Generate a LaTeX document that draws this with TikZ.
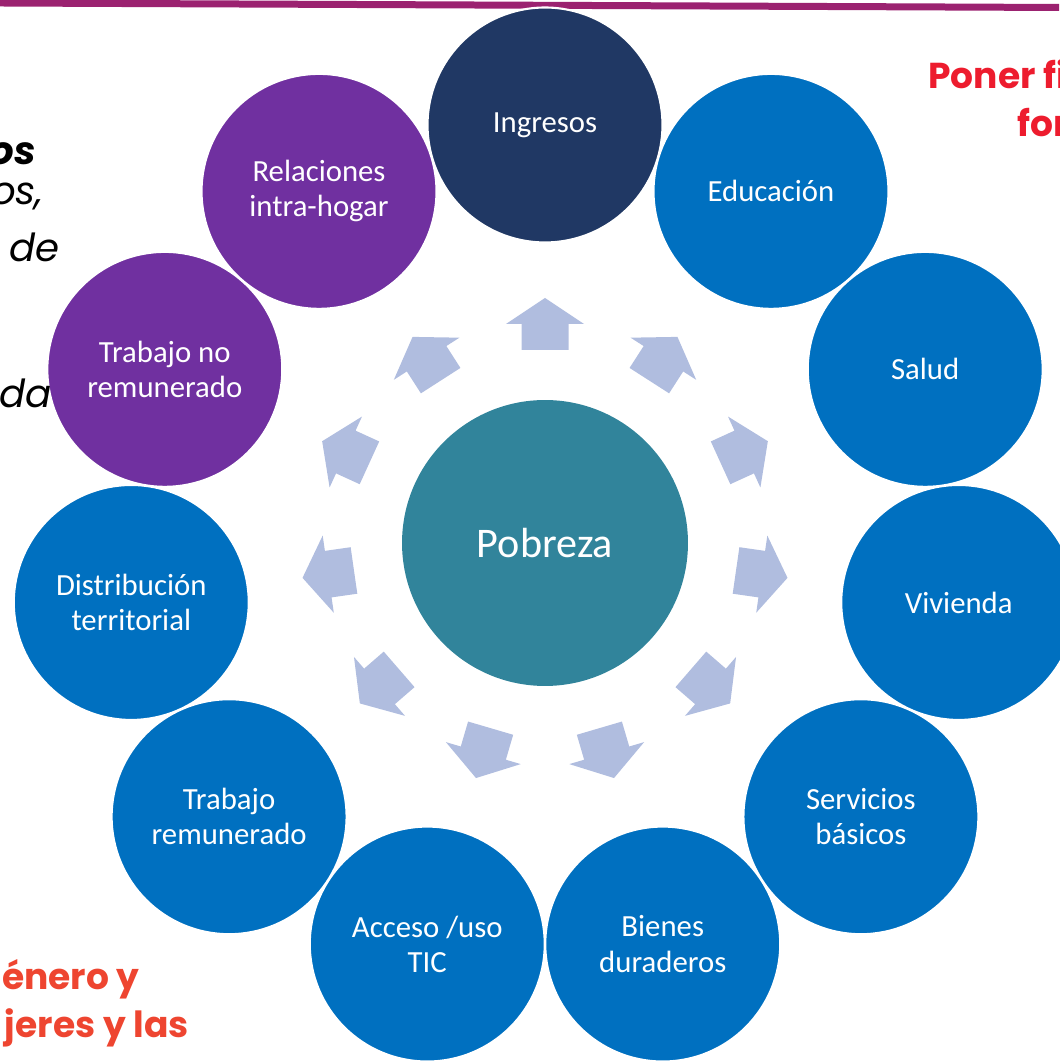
\documentclass[tikz,border=0pt]{standalone}
\usepackage{fontspec}
\usetikzlibrary{calc}
\setmainfont{Carlito}
\newfontfamily\gothic{Poppins}
\definecolor{navy}{HTML}{203864}
\definecolor{azul}{HTML}{0070C0}
\definecolor{morado}{HTML}{7030A0}
\definecolor{verdeazul}{HTML}{31849B}
\definecolor{lavanda}{HTML}{B0BDDF}
\definecolor{magenta}{HTML}{9B2270}
\definecolor{rojo}{HTML}{ED1C2E}
\definecolor{naranja}{HTML}{EE4530}
\tikzset{
  factor/.style={circle,draw=white,line width=1.2pt,minimum size=4.7cm,inner sep=0pt,
    text=white,align=center,font=\fontsize{17.5}{20}\selectfont},
  pobreza/.style={circle,fill=verdeazul,minimum size=5.72cm,inner sep=0pt,
    text=white,font=\fontsize{24}{28}\selectfont},
  flecha/.pic={\fill[lavanda] (0,245) -- (39,219) -- (23.5,219) -- (23.5,193)
    -- (-23.5,193) -- (-23.5,219) -- (-39,219) -- cycle;},
  margen/.style={inner sep=0pt,font=\gothic\fontsize{22}{26}\selectfont},
  aviso/.style={inner sep=0pt,font=\gothic\bfseries\fontsize{20.5}{24}\selectfont}
}
\begin{document}
\begin{tikzpicture}[x=0.02cm,y=0.02cm]
  \useasboundingbox (0,0) rectangle (1059,1061);
  \coordinate (C) at (545,518);

  \draw[magenta,line width=0.14cm] (0,1058) -- (1059,1053.5);

  \node[pobreza] (P) at (C) {Pobreza};

  \node[factor,fill=navy]   (ing) at ($(C)+(90:418)$)        {Ingresos};
  \node[factor,fill=azul]   (edu) at ($(C)+(57.2727:418)$)   {Educación};
  \node[factor,fill=azul]   (sal) at ($(C)+(24.5455:418)$)   {Salud};
  \node[factor,fill=azul]   (viv) at ($(C)+(-8.1818:418)$)   {Vivienda};
  \node[factor,fill=azul]   (ser) at ($(C)+(-40.9091:418)$)  {Servicios\\básicos};
  \node[factor,fill=azul]   (bie) at ($(C)+(-73.6364:418)$)  {Bienes\\duraderos};
  \node[factor,fill=azul]   (tic) at ($(C)+(-106.3636:418)$) {Acceso /uso\\TIC};
  \node[factor,fill=azul]   (tre) at ($(C)+(-139.0909:418)$) {Trabajo\\remunerado};
  \node[factor,fill=azul]   (dis) at ($(C)+(-171.8182:418)$) {Distribución\\territorial};
  \node[factor,fill=morado] (tnr) at ($(C)+(155.4545:418)$)  {Trabajo no\\remunerado};
  \node[factor,fill=morado] (rel) at ($(C)+(122.7273:418)$)  {Relaciones\\intra-hogar};

  \pic[rotate=0]         at (C) {flecha};
  \pic[rotate=-32.7273]  at (C) {flecha};
  \pic[rotate=-65.4545]  at (C) {flecha};
  \pic[rotate=-98.1818]  at (C) {flecha};
  \pic[rotate=-130.9091] at (C) {flecha};
  \pic[rotate=-163.6364] at (C) {flecha};
  \pic[rotate=-196.3636] at (C) {flecha};
  \pic[rotate=-229.0909] at (C) {flecha};
  \pic[rotate=-261.8182] at (C) {flecha};
  \pic[rotate=65.4545]   at (C) {flecha};
  \pic[rotate=32.7273]   at (C) {flecha};

  \node[margen,anchor=base east] (t1) at (36,896) {\textbf{\itshape os}};
  \node[margen,anchor=base east] (t2) at (44,856) {\itshape os,};
  \node[margen,anchor=base east] (t3) at (60,799) {\itshape de};
  \node[margen,anchor=base east] (t4) at (52,653) {\itshape da};
  \node[aviso,anchor=base west,text=rojo] (t5) at (928,972) {Poner fi};
  \node[aviso,anchor=base west,text=rojo] (t6) at (1017,924) {for};
  \node[aviso,anchor=base east,text=naranja] (t7) at (140,71) {énero y};
  \node[aviso,anchor=base east,text=naranja] (t8) at (189,23) {jeres y las};
\end{tikzpicture}
\end{document}
